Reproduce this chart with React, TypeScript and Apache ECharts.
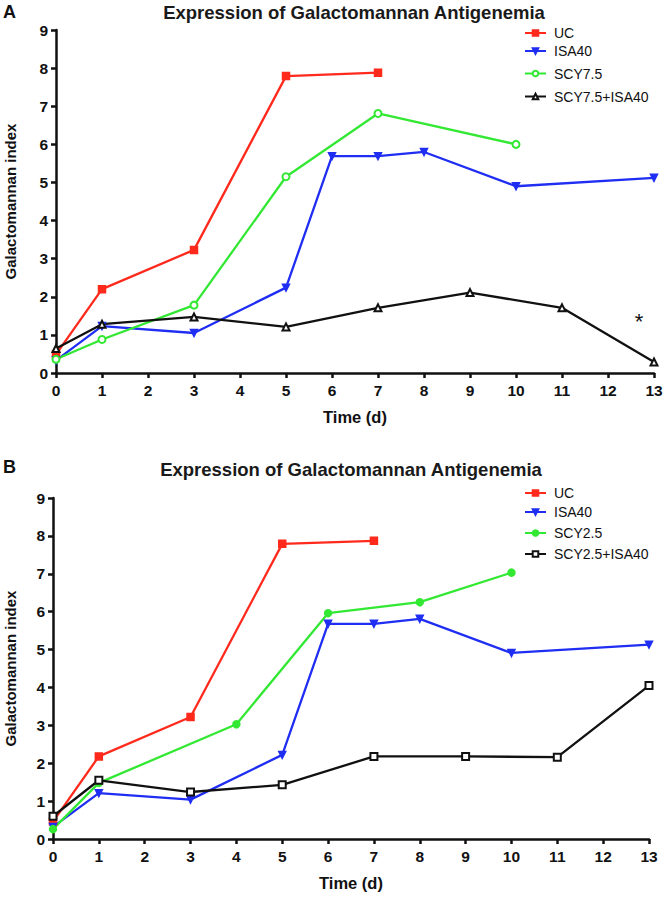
import React, { useEffect, useRef } from "react";
import * as echarts from "echarts";

// ---- Panel A data ----
const ucDays = [0, 1, 3, 5, 7];
const ucA = [0.49, 2.2, 3.23, 7.79, 7.88];
const isaDays = [0, 1, 3, 5, 6, 7, 8, 10, 13];
const isaA = [0.33, 1.23, 1.05, 2.24, 5.69, 5.69, 5.8, 4.9, 5.12];
const scy75Days = [0, 1, 3, 5, 7, 10];
const scy75 = [0.36, 0.88, 1.78, 5.15, 6.81, 6.0];
const comboADays = [0, 1, 3, 5, 7, 9, 11, 13];
const comboA = [0.64, 1.28, 1.47, 1.21, 1.71, 2.11, 1.71, 0.29];

// ---- Panel B data ----
const ucB = [0.46, 2.18, 3.22, 7.79, 7.87];
const isaB = [0.32, 1.21, 1.04, 2.22, 5.68, 5.68, 5.81, 4.91, 5.13];
const scy25Days = [0, 1, 4, 6, 8, 10];
const scy25 = [0.26, 1.48, 3.03, 5.96, 6.25, 7.03];
const comboBDays = [0, 1, 3, 5, 7, 9, 11, 13];
const comboB = [0.6, 1.55, 1.24, 1.43, 2.18, 2.18, 2.16, 4.05];

const legendA = ["UC", "ISA40", "SCY7.5", "SCY7.5+ISA40"];
const legendB = ["UC ", "ISA40 ", "SCY2.5", "SCY2.5+ISA40"];
const titleText = "Expression of Galactomannan Antigenemia";
const xName = "Time (d)";
const yName = "Galactomannan index";

const RED = "#ff2a1c";
const BLUE = "#1f2ef2";
const GREEN = "#33e833";
const BLACK = "#111111";
const FONT = '"Liberation Sans", Arial, sans-serif';

const zip = (xs: number[], ys: number[]) => xs.map((x, i) => [x, ys[i]]);

function xAxisFor(gridIndex: number) {
  return {
    type: "value",
    gridIndex,
    min: 0,
    max: 13,
    interval: 1,
    name: xName,
    nameLocation: "middle",
    nameGap: 35,
    nameTextStyle: { fontFamily: FONT, fontWeight: "bold", fontSize: 16.5, color: "#111" },
    axisLine: { show: true, lineStyle: { color: "#111", width: 2.5 } },
    axisTick: { show: true, length: 5, lineStyle: { color: "#111", width: 2.5 } },
    axisLabel: { fontFamily: FONT, fontWeight: "bold", fontSize: 15.5, color: "#111", margin: 9 },
    splitLine: { show: false },
  };
}
function yAxisFor(gridIndex: number, nameGap: number) {
  return {
    type: "value",
    gridIndex,
    min: 0,
    max: 9,
    interval: 1,
    name: yName,
    nameLocation: "middle",
    nameGap,
    nameTextStyle: { fontFamily: FONT, fontWeight: "bold", fontSize: 15, color: "#111" },
    axisLine: { show: true, lineStyle: { color: "#111", width: 2.5 } },
    axisTick: { show: true, length: 5, lineStyle: { color: "#111", width: 2.5 } },
    axisLabel: { fontFamily: FONT, fontWeight: "bold", fontSize: 15.5, color: "#111", margin: 8 },
    splitLine: { show: false },
  };
}

function lineSeries(name: string, idx: number, data: number[][], color: string, symbol: string, extra: any = {}) {
  return {
    type: "line",
    name,
    xAxisIndex: idx,
    yAxisIndex: idx,
    data,
    symbol,
    symbolSize: 7,
    lineStyle: { color, width: 2.3 },
    itemStyle: { color, borderColor: color, borderWidth: 1.5 },
    ...extra,
  };
}

const legendRowsA = [33, 51, 73.5, 96.5];
const legendRowsB = [493, 512, 533, 554];

export default function App() {
  const ref = useRef<HTMLDivElement>(null);
  useEffect(() => {
    if (!ref.current) return;
    const chart = echarts.init(ref.current, undefined, { renderer: "svg" });
    const mkLegend = (name: string, y: number) => ({
      orient: "vertical",
      data: [name],
      left: 524,
      top: y - 8,
      itemWidth: 21,
      itemHeight: 7,
      itemGap: 0,
      textStyle: { fontFamily: FONT, fontSize: 14, color: "#111", lineHeight: 16, padding: [0, 0, 0, 3] },
      padding: 0,
    });
    chart.setOption({
      animation: false,
      backgroundColor: "#fff",
      grid: [
        { left: 56, right: 12, top: 30, height: 343, containLabel: false, outerBoundsMode: "none" },
        { left: 53, right: 17, top: 498, height: 341, containLabel: false, outerBoundsMode: "none" },
      ],
      xAxis: [xAxisFor(0), xAxisFor(1)],
      yAxis: [yAxisFor(0, 38), yAxisFor(1, 35)],
      legend: [
        ...legendA.map((n, i) => mkLegend(n, legendRowsA[i])),
        ...legendB.map((n, i) => mkLegend(n, legendRowsB[i])),
      ],
      graphic: [
        { type: "text", x: 3, y: 3, style: { text: "A", font: `bold 18px ${FONT}`, fill: "#111" } },
        { type: "text", x: 354, y: 12, style: { text: titleText, font: `bold 18.5px ${FONT}`, fill: "#1a1a1a", textAlign: "center", textVerticalAlign: "middle" } },
        { type: "text", x: 639, y: 321, style: { text: "*", font: `22px ${FONT}`, fill: "#111", textAlign: "center", textVerticalAlign: "middle" } },
        { type: "text", x: 3, y: 458, style: { text: "B", font: `bold 18px ${FONT}`, fill: "#111" } },
        { type: "text", x: 351, y: 469, style: { text: titleText, font: `bold 18.5px ${FONT}`, fill: "#1a1a1a", textAlign: "center", textVerticalAlign: "middle" } },
      ],
      series: [
        lineSeries("UC", 0, zip(ucDays, ucA), RED, "rect"),
        lineSeries("ISA40", 0, zip(isaDays, isaA), BLUE, "triangle", { symbolRotate: 180 }),
        lineSeries("SCY7.5", 0, zip(scy75Days, scy75), GREEN, "emptyCircle", { itemStyle: { color: GREEN, borderColor: GREEN, borderWidth: 1.8 } }),
        lineSeries("SCY7.5+ISA40", 0, zip(comboADays, comboA), BLACK, "emptyTriangle", { itemStyle: { color: BLACK, borderColor: BLACK, borderWidth: 1.8 } }),
        lineSeries("UC ", 1, zip(ucDays, ucB), RED, "rect"),
        lineSeries("ISA40 ", 1, zip(isaDays, isaB), BLUE, "triangle", { symbolRotate: 180 }),
        lineSeries("SCY2.5", 1, zip(scy25Days, scy25), GREEN, "circle"),
        lineSeries("SCY2.5+ISA40", 1, zip(comboBDays, comboB), BLACK, "emptyRect", { itemStyle: { color: BLACK, borderColor: BLACK, borderWidth: 1.8 } }),
      ],
    });
    return () => chart.dispose();
  }, []);
  return <div ref={ref} style={{ position: "fixed", left: 0, top: 0, width: 666, height: 897 }} />;
}
